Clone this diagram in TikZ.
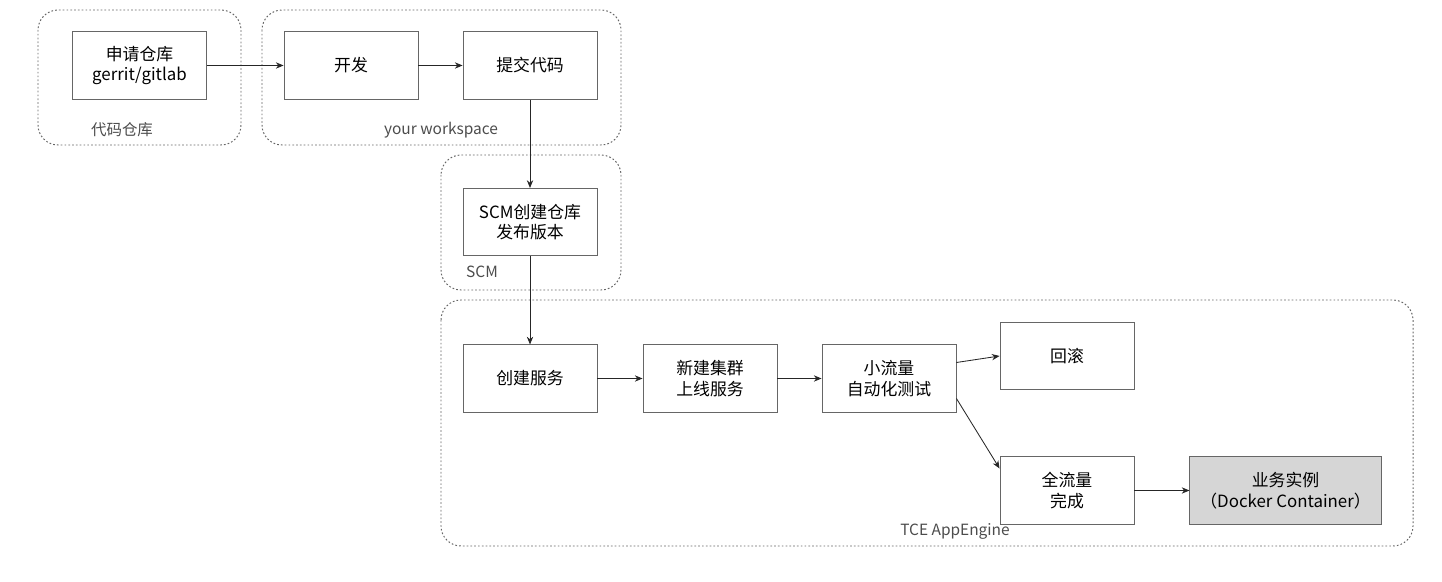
\documentclass[tikz,border=0pt]{standalone}
\usepackage{fontspec}
\setmainfont{Noto Sans CJK SC}
\usepackage{tikz}
\usetikzlibrary{arrows.meta}

\begin{document}
\begin{tikzpicture}[
                x=0.025cm, y=-0.025cm,
                stepbox/.style={rectangle, draw=black!60, line width=0.6pt, minimum width=3.35cm, minimum height=1.68cm, inner sep=0pt, align=center, text=black, font=\fontsize{12}{14.5}\selectfont}, % Process box
                group/.style={draw=black!60, line width=0.7pt, dash pattern=on 1.2pt off 1.5pt, rounded corners=0.5cm}, % Dotted frame
                grouplabel/.style={text=black!70, font=\fontsize{11}{13}\selectfont}, % Frame caption
                flow/.style={-{Stealth[length=5.5pt, width=4.5pt]}, line width=0.6pt, draw=black!85} % Connector
                ]
                \useasboundingbox (0,0) rectangle (1442,582);

                % frames
                \draw[group] (38,10) rectangle (241,145);
                \draw[group] (262,10) rectangle (621,145);
                \draw[group] (441,155) rectangle (621,290);
                \draw[group] (441,300) rectangle (1413,546);
                \node[grouplabel] (repolabel) at (122,130) {代码仓库};
                \node[grouplabel] (wslabel) at (441,130) {your workspace};
                \node[grouplabel] (scmlabel) at (482,272) {SCM};
                \node[grouplabel] (tcelabel) at (955,531) {TCE AppEngine};

                % steps
                \node[stepbox] (repo) at (139.5,65.5) {申请仓库\\gerrit/gitlab};
                \node[stepbox] (dev) at (351,65.5) {开发};
                \node[stepbox] (commit) at (530,65.5) {提交代码};
                \node[stepbox] (scm) at (530,222) {SCM创建仓库\\发布版本};
                \node[stepbox] (create) at (530,378.5) {创建服务};
                \node[stepbox] (cluster) at (710,378.5) {新建集群\\上线服务};
                \node[stepbox] (canary) at (889,378.5) {小流量\\自动化测试};
                \node[stepbox] (rollback) at (1067,356) {回滚};
                \node[stepbox] (full) at (1067,490.5) {全流量\\完成};
                \node[stepbox, fill=black!16, minimum width=4.78cm] (instance) at (1285.5,490.5) {业务实例\\（Docker Container）};

                % flow
                \draw[flow] (repo) -- (dev);
                \draw[flow] (dev) -- (commit);
                \draw[flow] (commit) -- (scm);
                \draw[flow] (scm) -- (create);
                \draw[flow] (create) -- (cluster);
                \draw[flow] (cluster) -- (canary);
                \draw[flow] ([yshift=0.4cm]canary.east) -- (rollback.west);
                \draw[flow] ([yshift=-0.5cm]canary.east) -- ([yshift=0.55cm]full.west);
                \draw[flow] (full) -- (instance);
            \end{tikzpicture}
\end{document}
